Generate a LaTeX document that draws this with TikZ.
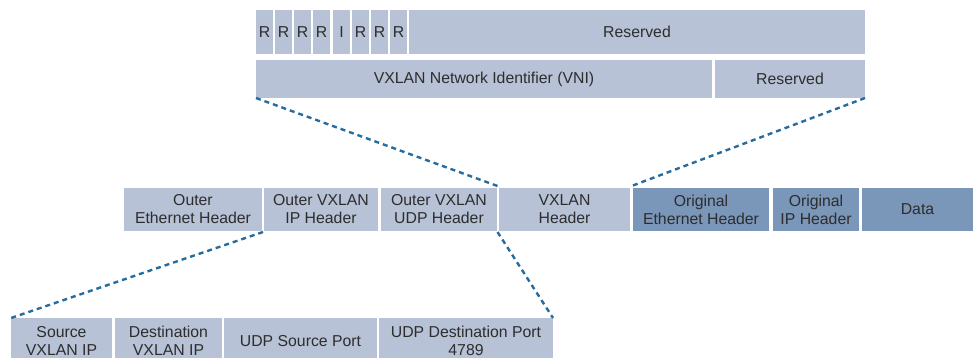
\documentclass[tikz,border=0pt]{standalone}
\usepackage{fontspec}
\setmainfont{Liberation Sans}
\definecolor{lb}{RGB}{183,194,214}
\definecolor{db}{RGB}{122,150,185}
\definecolor{tx}{RGB}{45,45,45}
\definecolor{lc}{RGB}{38,108,158}
\tikzset{
  fld/.style={fill=lb, draw=none, inner sep=0pt, outer sep=0pt, anchor=north west,
              align=center, text=tx, font=\fontsize{15.8}{18}\selectfont},
  dkfld/.style={fld, fill=db},
  conn/.style={draw=lc, line width=2.4pt, dash pattern=on 5pt off 4pt}
}
\begin{document}
\begin{tikzpicture}[x=1pt,y=-1pt]
\useasboundingbox (0,0) rectangle (973,357);
\clip (0,0) rectangle (973,357);
% top header rows
\node[fld, minimum width=17pt, minimum height=44pt] (f1) at (256,10) {R};
\node[fld, minimum width=17pt, minimum height=44pt] (f2) at (275,10) {R};
\node[fld, minimum width=17pt, minimum height=44pt] (f3) at (294,10) {R};
\node[fld, minimum width=17pt, minimum height=44pt] (f4) at (313,10) {R};
\node[fld, minimum width=17pt, minimum height=44pt] (f5) at (333,10) {I};
\node[fld, minimum width=17pt, minimum height=44pt] (f6) at (352,10) {R};
\node[fld, minimum width=17pt, minimum height=44pt] (f7) at (371,10) {R};
\node[fld, minimum width=17pt, minimum height=44pt] (f8) at (390,10) {R};
\node[fld, minimum width=456pt, minimum height=44pt] (r1) at (409,10) {Reserved};
\node[fld, minimum width=456pt, minimum height=38pt] (vni) at (256,60) {VXLAN Network Identifier (VNI)};
\node[fld, minimum width=150pt, minimum height=38pt] (r2) at (715,60) {Reserved};
% middle row
\node[fld, minimum width=138pt, minimum height=43pt] (oeth) at (124,188) {Outer\\Ethernet Header};
\node[fld, minimum width=114pt, minimum height=43pt] (oip) at (264,188) {Outer VXLAN\\IP Header};
\node[fld, minimum width=116pt, minimum height=43pt] (oudp) at (381,188) {Outer VXLAN\\UDP Header};
\node[fld, minimum width=131pt, minimum height=43pt] (vxh) at (499,188) {VXLAN\\Header};
\node[dkfld, minimum width=136pt, minimum height=43pt] (oreth) at (633,188) {Original\\Ethernet Header};
\node[dkfld, minimum width=86pt, minimum height=43pt] (orip) at (773,188) {Original\\IP Header};
\node[dkfld, minimum width=111pt, minimum height=43pt] (data) at (862,188) {Data};
% bottom row
\node[fld, minimum width=101pt, minimum height=46pt] (src) at (11,318) {Source\\VXLAN IP};
\node[fld, minimum width=107pt, minimum height=46pt] (dst) at (115,318) {Destination\\VXLAN IP};
\node[fld, minimum width=153pt, minimum height=46pt] (usp) at (224,318) {UDP Source Port};
\node[fld, minimum width=174pt, minimum height=46pt] (udp) at (379,318) {UDP Destination Port\\4789};
% connector end points
\coordinate (g1) at (497.5,186);
\coordinate (g2) at (631.5,186);
\coordinate (g3) at (497.5,232);
\coordinate (g4) at (263,232);
% connectors
\draw[conn] (vni.south west) -- (g1);
\draw[conn] (r2.south east) -- (g2);
\draw[conn] (g4) -- (src.north west);
\draw[conn] (g3) -- (udp.north east);
\end{tikzpicture}
\end{document}
